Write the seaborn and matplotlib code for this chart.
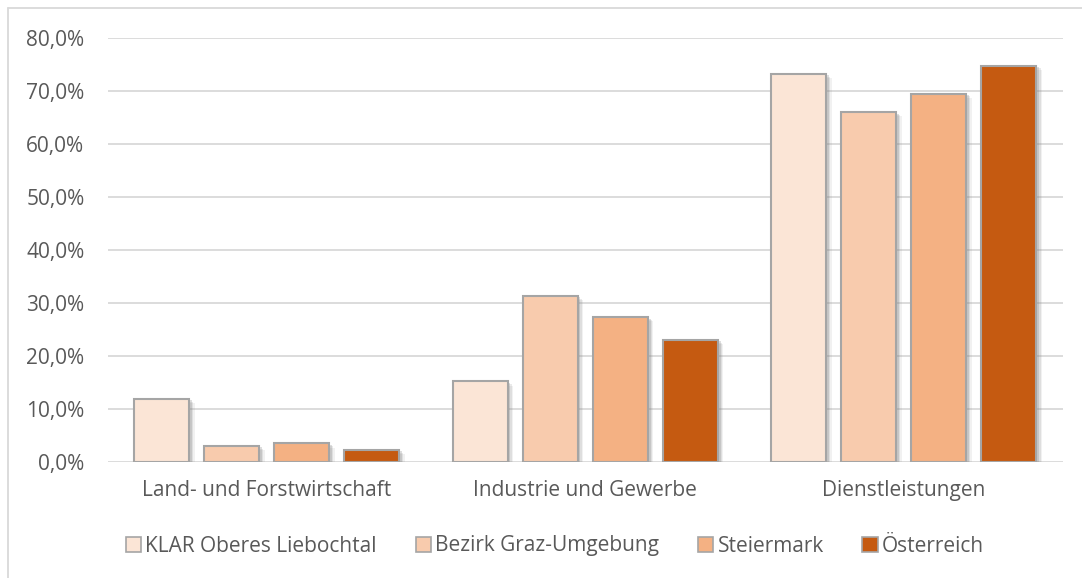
import matplotlib
matplotlib.use("Agg")
import matplotlib.pyplot as plt
import matplotlib.patheffects as pe
from matplotlib.lines import Line2D
from matplotlib.ticker import FuncFormatter
import pandas as pd
import seaborn as sns

# Employment share by economic sector (%)
sectors = ["Land- und Forstwirtschaft", "Industrie und Gewerbe", "Dienstleistungen"]
regions = ["KLAR Oberes Liebochtal", "Bezirk Graz-Umgebung", "Steiermark", "Österreich"]
klar = [11.9, 15.2, 73.2]
bezirk = [3.0, 31.3, 66.0]
steiermark = [3.5, 27.3, 69.5]
oesterreich = [2.3, 23.0, 74.8]
colors = ["#FBE5D6", "#F8CBAD", "#F4B183", "#C55A11"]

rows = []
for region, vals in zip(regions, [klar, bezirk, steiermark, oesterreich]):
    for sector, v in zip(sectors, vals):
        rows.append({"Sektor": sector, "Region": region, "Anteil": v})
df = pd.DataFrame(rows)

sns.set_theme(style="white")
plt.rcParams["font.family"] = ["Open Sans", "DejaVu Sans"]
text_color = "#595959"
fs = 15

fig = plt.figure(figsize=(10.82, 5.78), dpi=100)
W, H = 1082, 578
ax = fig.add_axes([108 / W, 1 - 462 / H, (1063 - 108) / W, (462 - 38) / H])

sns.barplot(data=df, x="Sektor", y="Anteil", hue="Region", order=sectors,
            hue_order=regions, palette=colors, saturation=1, width=0.88, gap=0.214,
            edgecolor="#A5A5A5", linewidth=1.5, ax=ax, legend=False, zorder=3)

# soft drop shadow built from a few stacked offsets
shadow = [pe.SimplePatchShadow(offset=(4, -3), shadow_rgbFace="#8C8C8C", alpha=0.12),
          pe.SimplePatchShadow(offset=(3, -2), shadow_rgbFace="#8C8C8C", alpha=0.18),
          pe.SimplePatchShadow(offset=(2, -1), shadow_rgbFace="#7F7F7F", alpha=0.25),
          pe.Normal()]
for patch in ax.patches:
    patch.set_path_effects(shadow)

ax.set_ylim(0, 80)
ax.set_xlim(-0.498, 2.5)
ax.set_yticks(range(0, 81, 10))
ax.yaxis.set_major_formatter(FuncFormatter(lambda v, _: f"{v:.1f}%".replace(".", ",")))
ax.grid(axis="y", color="#D9D9D9", linewidth=1.3, zorder=0)
ax.set_axisbelow(True)
for s in ax.spines.values():
    s.set_visible(False)
ax.set_xlabel("")
ax.set_ylabel("")
ax.tick_params(axis="y", length=0, pad=17, labelsize=fs, labelcolor=text_color)
ax.tick_params(axis="x", length=0, pad=13, labelsize=fs, labelcolor=text_color)

handles = [plt.Rectangle((0, 0), 1, 1, facecolor=c, edgecolor="#A5A5A5", linewidth=1.2)
           for c in colors]
fig.legend(handles, regions, loc="center", bbox_to_anchor=(555 / W, 1 - 546 / H),
           ncol=4, frameon=False, fontsize=fs, labelcolor=text_color,
           handlelength=0.75, handleheight=0.75, handletextpad=0.2, columnspacing=1.85)

# Chart frame (top and left edges)
fig.add_artist(Line2D([8 / W, 1], [1 - 8 / H, 1 - 8 / H], transform=fig.transFigure,
                      color="#D9D9D9", linewidth=1.3))
fig.add_artist(Line2D([8 / W, 8 / W], [0, 1 - 8 / H], transform=fig.transFigure,
                      color="#D9D9D9", linewidth=1.3))

fig.savefig("out.png", dpi=100)
